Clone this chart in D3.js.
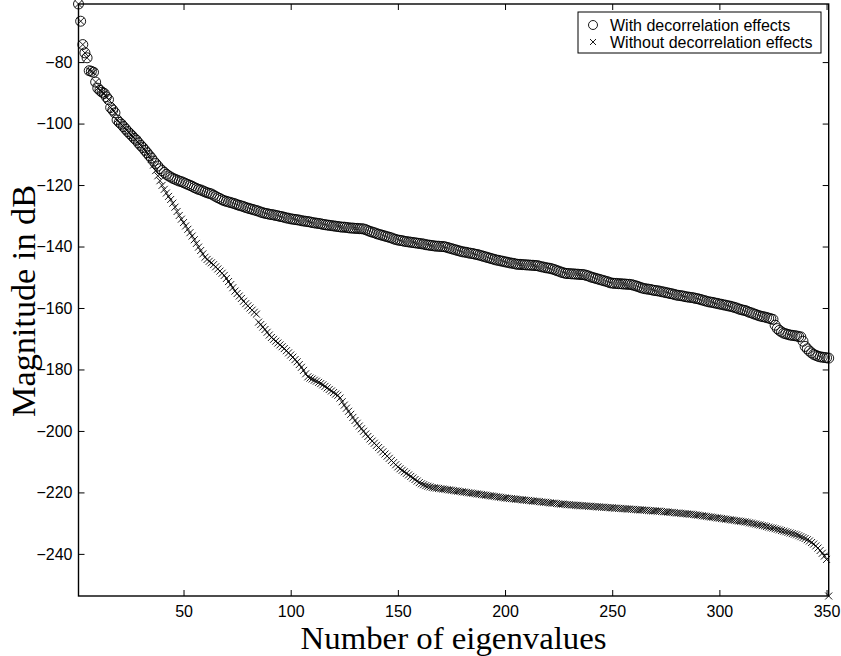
<!DOCTYPE html>
<html><head><meta charset="utf-8">
<script src="https://cdn.jsdelivr.net/npm/d3@7"></script>
<style>body{margin:0;background:#fff}svg{display:block}</style>
</head><body>
<svg id="c" width="841" height="656"></svg>
<script>
const withDecor = [
-61.1,-66.7,-74.3,-77.0,-78.6,-82.8,-83.0,-83.3,-86.5,-88.5,
-89.2,-89.8,-90.2,-91.3,-92.2,-94.8,-95.6,-96.5,-98.8,-99.6,
-100.2,-101.0,-101.8,-102.6,-103.3,-104.0,-104.8,-105.4,-106.3,-107.1,
-107.8,-108.7,-109.5,-110.4,-111.2,-112.2,-113.0,-113.8,-114.7,-115.3,
-115.9,-116.5,-117.0,-117.4,-117.8,-118.1,-118.4,-118.7,-118.9,-119.2,
-119.5,-119.8,-120.1,-120.4,-120.8,-121.1,-121.4,-121.6,-121.9,-122.2,
-122.5,-122.7,-122.9,-123.3,-123.7,-124.1,-124.4,-124.8,-125.1,-125.3,
-125.5,-125.7,-125.9,-126.1,-126.4,-126.6,-126.8,-127.0,-127.3,-127.5,
-127.7,-127.9,-128.1,-128.3,-128.5,-128.8,-129.0,-129.2,-129.3,-129.5,
-129.6,-129.7,-129.9,-130.0,-130.2,-130.3,-130.5,-130.7,-130.8,-131.0,
-131.1,-131.2,-131.3,-131.4,-131.6,-131.7,-131.8,-131.9,-132.0,-132.2,
-132.3,-132.4,-132.5,-132.6,-132.8,-132.9,-133.0,-133.1,-133.2,-133.3,
-133.4,-133.5,-133.6,-133.7,-133.7,-133.8,-133.9,-134.0,-134.0,-134.1,
-134.1,-134.2,-134.2,-134.3,-134.5,-134.8,-135.1,-135.3,-135.5,-135.8,
-136.0,-136.2,-136.4,-136.6,-136.8,-137.0,-137.2,-137.5,-137.7,-137.9,
-138.0,-138.1,-138.3,-138.4,-138.5,-138.6,-138.7,-138.8,-138.9,-139.0,
-139.1,-139.2,-139.4,-139.5,-139.6,-139.7,-139.8,-139.9,-139.9,-140.0,
-140.0,-140.1,-140.3,-140.5,-140.7,-140.9,-141.1,-141.3,-141.5,-141.7,
-141.8,-141.9,-142.1,-142.2,-142.3,-142.5,-142.6,-142.8,-143.0,-143.2,
-143.4,-143.6,-143.8,-144.0,-144.2,-144.4,-144.5,-144.7,-144.8,-145.0,
-145.1,-145.3,-145.4,-145.5,-145.7,-145.8,-145.8,-145.9,-145.9,-146.0,
-146.0,-146.1,-146.1,-146.2,-146.2,-146.4,-146.6,-146.7,-146.9,-147.0,
-147.1,-147.3,-147.5,-147.8,-148.0,-148.3,-148.5,-148.7,-148.8,-148.8,
-148.9,-148.9,-149.0,-149.0,-149.1,-149.1,-149.2,-149.4,-149.6,-149.9,
-150.1,-150.3,-150.5,-150.7,-150.9,-151.1,-151.3,-151.5,-151.8,-151.9,
-152.0,-152.0,-152.1,-152.1,-152.2,-152.2,-152.3,-152.3,-152.4,-152.6,
-152.8,-153.0,-153.3,-153.5,-153.7,-153.8,-153.9,-154.0,-154.2,-154.3,
-154.4,-154.5,-154.7,-154.8,-155.0,-155.1,-155.3,-155.4,-155.6,-155.8,
-155.9,-156.0,-156.1,-156.3,-156.4,-156.5,-156.6,-156.7,-156.9,-157.0,
-157.2,-157.4,-157.6,-157.8,-158.0,-158.1,-158.2,-158.4,-158.5,-158.7,
-158.8,-159.0,-159.1,-159.3,-159.4,-159.6,-159.8,-160.0,-160.3,-160.5,
-160.7,-160.8,-161.1,-161.4,-161.6,-161.9,-162.1,-162.4,-162.6,-162.8,
-162.9,-163.1,-163.3,-163.5,-163.7,-165.6,-166.7,-167.3,-167.8,-168.2,
-168.4,-168.6,-168.8,-168.9,-169.0,-169.1,-169.3,-169.4,-170.8,-172.5,
-173.3,-174.0,-174.6,-175.1,-175.4,-175.7,-175.9,-176.0,-176.1,-176.2,
-176.3
];
const withoutDecor = [
-61.1,-66.7,-74.3,-77.0,-78.6,-82.8,-83.0,-83.3,-86.5,-88.5,
-89.2,-89.8,-90.2,-91.3,-92.2,-94.8,-95.6,-96.5,-98.8,-99.6,
-100.2,-101.0,-101.8,-102.6,-103.3,-104.0,-104.8,-105.4,-106.3,-107.1,
-107.8,-108.7,-109.5,-110.4,-111.6,-113.5,-115.3,-117.0,-118.6,-120.1,
-121.4,-122.6,-123.7,-124.7,-125.9,-127.2,-128.6,-129.9,-131.1,-132.2,
-133.3,-134.4,-135.5,-136.6,-137.8,-139.0,-140.2,-141.3,-142.4,-143.5,
-144.2,-144.8,-145.3,-145.9,-146.6,-147.3,-148.0,-148.7,-149.4,-150.4,
-151.4,-152.4,-153.4,-154.5,-155.3,-156.1,-156.9,-157.8,-158.6,-159.3,
-160.0,-160.7,-161.4,-162.0,-164.6,-165.4,-166.2,-167.0,-167.9,-168.8,
-169.6,-170.2,-170.8,-171.4,-172.0,-172.6,-173.2,-173.9,-174.6,-175.3,
-176.0,-176.8,-177.5,-178.4,-179.3,-180.3,-181.4,-182.4,-182.8,-183.1,
-183.5,-183.8,-184.2,-184.6,-185.0,-185.5,-186.0,-186.5,-187.0,-187.5,
-188.0,-188.4,-189.3,-190.5,-191.6,-192.6,-193.6,-194.6,-195.6,-196.6,
-197.5,-198.4,-199.3,-200.1,-201.0,-201.8,-202.6,-203.3,-204.0,-204.7,
-205.4,-206.1,-206.8,-207.5,-208.2,-208.9,-209.6,-210.3,-211.0,-211.7,
-212.3,-212.8,-213.3,-213.8,-214.3,-214.8,-215.3,-215.8,-216.3,-216.8,
-217.2,-217.5,-217.8,-218.0,-218.2,-218.4,-218.5,-218.6,-218.7,-218.8,
-218.9,-219.0,-219.1,-219.2,-219.3,-219.4,-219.5,-219.6,-219.7,-219.8,
-219.9,-220.0,-220.1,-220.2,-220.3,-220.4,-220.5,-220.6,-220.7,-220.8,
-220.9,-221.0,-221.1,-221.2,-221.3,-221.4,-221.5,-221.6,-221.7,-221.8,
-221.9,-222.0,-222.0,-222.1,-222.2,-222.3,-222.3,-222.4,-222.5,-222.6,
-222.6,-222.7,-222.8,-222.9,-222.9,-223.0,-223.1,-223.2,-223.2,-223.3,
-223.4,-223.5,-223.5,-223.6,-223.7,-223.8,-223.8,-223.9,-224.0,-224.0,
-224.1,-224.1,-224.2,-224.2,-224.3,-224.3,-224.4,-224.4,-224.5,-224.5,
-224.6,-224.6,-224.7,-224.7,-224.8,-224.8,-224.9,-224.9,-225.0,-225.0,
-225.1,-225.1,-225.2,-225.2,-225.3,-225.3,-225.4,-225.4,-225.5,-225.5,
-225.6,-225.6,-225.7,-225.7,-225.8,-225.8,-225.9,-225.9,-226.0,-226.0,
-226.1,-226.1,-226.2,-226.3,-226.3,-226.4,-226.5,-226.5,-226.6,-226.7,
-226.7,-226.8,-226.9,-226.9,-227.0,-227.1,-227.1,-227.2,-227.3,-227.4,
-227.5,-227.6,-227.7,-227.8,-227.9,-228.0,-228.1,-228.2,-228.3,-228.4,
-228.5,-228.6,-228.7,-228.8,-228.9,-229.0,-229.1,-229.2,-229.3,-229.4,
-229.5,-229.6,-229.7,-229.9,-230.0,-230.2,-230.3,-230.5,-230.6,-230.8,
-230.9,-231.1,-231.3,-231.5,-231.6,-231.8,-232.0,-232.2,-232.4,-232.6,
-232.8,-233.0,-233.2,-233.4,-233.6,-233.8,-234.1,-234.4,-234.7,-235.0,
-235.4,-235.8,-236.3,-236.8,-237.4,-238.1,-238.9,-239.8,-240.7,-241.8,
-253.7
];
const xTicks = [50, 100, 150, 200, 250, 300, 350];
const yTicks = [-80, -100, -120, -140, -160, -180, -200, -220, -240];
const seriesNames = ["With decorrelation effects", "Without decorrelation effects"];
const xLabel = "Number of eigenvalues";
const yLabel = "Magnitude in dB";

const svg = d3.select("#c");
const L = 78.5, R = 828.7, T = 4, B = 596;
const n = withDecor.length;
const idx = d3.range(1, n + 1);
const x = d3.scaleLinear().domain([1, n]).range([L, R]);
const y = d3.scaleLinear().domain([d3.min(withoutDecor), d3.max(withDecor)]).range([B, T]);

const tickFont = "'Liberation Sans', Arial, Helvetica, sans-serif";
const fmt = d => d3.format("d")(d).replace("-", "\u2212");

// axes with inward ticks
const gx = svg.append("g").attr("transform", `translate(0,${B})`)
  .call(d3.axisBottom(x).tickValues(xTicks).tickSizeInner(-6).tickSizeOuter(0).tickPadding(10).tickFormat(fmt));
const gxt = svg.append("g").attr("transform", `translate(0,${T})`)
  .call(d3.axisTop(x).tickValues(xTicks).tickSizeInner(-6).tickSizeOuter(0).tickFormat(""));
const gy = svg.append("g").attr("transform", `translate(${L},0)`)
  .call(d3.axisLeft(y).tickValues(yTicks).tickSizeInner(-6).tickSizeOuter(0).tickPadding(6).tickFormat(fmt));
const gyr = svg.append("g").attr("transform", `translate(${R},0)`)
  .call(d3.axisRight(y).tickValues(yTicks).tickSizeInner(-6).tickSizeOuter(0).tickFormat(""));
[gx, gxt, gy, gyr].forEach(g => {
  g.select(".domain").remove();
  g.selectAll(".tick line").attr("stroke", "#000").attr("stroke-width", 1);
  g.selectAll("text").attr("font-family", tickFont).attr("font-size", 16).attr("fill", "#000");
});
svg.append("rect").attr("x", L).attr("y", T).attr("width", R - L).attr("height", B - T)
  .attr("fill", "none").attr("stroke", "#000").attr("stroke-width", 1.4);

// series
const gC = svg.append("g");
gC.selectAll("circle").data(idx).join("circle")
  .attr("cx", i => x(i)).attr("cy", i => y(withDecor[i - 1])).attr("r", 5)
  .attr("fill", "none").attr("stroke", "#000").attr("stroke-width", 0.9);
const cs = 3.5;
const gX = svg.append("g");
gX.selectAll("path").data(idx).join("path")
  .attr("d", i => {
    const cx = x(i), cy = y(withoutDecor[i - 1]);
    return `M${cx - cs},${cy - cs}L${cx + cs},${cy + cs}M${cx - cs},${cy + cs}L${cx + cs},${cy - cs}`;
  })
  .attr("fill", "none").attr("stroke", "#000").attr("stroke-width", 0.9);

// legend
const lg = svg.append("g");
const lgL = 578, lgR = 821, lgT = 12, lgB = 53;
lg.append("rect").attr("x", lgL).attr("y", lgT).attr("width", lgR - lgL).attr("height", lgB - lgT)
  .attr("fill", "#fff").attr("stroke", "#000").attr("stroke-width", 1);
const rows = [lgT + 13, lgT + 30];
const mx = 593;
lg.append("circle").attr("cx", mx).attr("cy", rows[0]).attr("r", 4.5)
  .attr("fill", "none").attr("stroke", "#000").attr("stroke-width", 0.9);
lg.append("path").attr("d", `M${mx - 3},${rows[1] - 3}L${mx + 3},${rows[1] + 3}M${mx - 3},${rows[1] + 3}L${mx + 3},${rows[1] - 3}`)
  .attr("stroke", "#000").attr("stroke-width", 0.9);
seriesNames.forEach((s, k) => {
  lg.append("text").attr("x", 610).attr("y", rows[k]).attr("dy", "0.35em")
    .attr("font-family", tickFont).attr("font-size", 16).attr("fill", "#000").text(s);
});

// axis titles
const serif = "'Liberation Serif', 'Times New Roman', serif";
svg.append("text").attr("x", (L + R) / 2).attr("y", 649).attr("text-anchor", "middle")
  .attr("font-family", serif).attr("font-size", 31).attr("textLength", 306).attr("lengthAdjust", "spacingAndGlyphs")
  .attr("fill", "#000").text(xLabel);
svg.append("text").attr("transform", `translate(35,${(T + B) / 2 + 1}) rotate(-90)`).attr("text-anchor", "middle")
  .attr("font-family", serif).attr("font-size", 33).attr("textLength", 232).attr("lengthAdjust", "spacingAndGlyphs")
  .attr("fill", "#000").text(yLabel);
</script>
</body></html>
